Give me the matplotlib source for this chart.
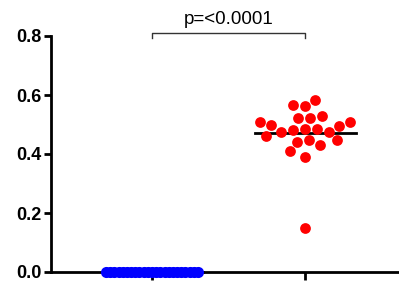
import numpy as np
import matplotlib.pyplot as plt

plt.rcParams["font.family"] = ["Liberation Sans", "DejaVu Sans"]

# Données
positions_groupes = [0, 1]
valeurs_bleu = [0.0] * 23
valeurs_rouge = [0.583, 0.563, 0.566, 0.522, 0.509, 0.498, 0.495, 0.509,
                 0.522, 0.529, 0.485, 0.481, 0.475, 0.475, 0.485, 0.447,
                 0.441, 0.447, 0.431, 0.461, 0.410, 0.390, 0.149]
graduations_y = [0.0, 0.2, 0.4, 0.6, 0.8]
etiquettes_y = ["0.0", "0.2", "0.4", "0.6", "0.8"]
texte_p = "p=<0.0001"

fig = plt.figure(figsize=(3.99, 2.86), dpi=100)
ax = fig.add_axes([51 / 399, 14 / 286, 348 / 399, 236 / 286])
ax.set_xlim(-0.66, 1.614)
ax.set_ylim(0, 0.8)

ECART = 12.0  # distance minimale entre centres des points (pixels)


def essaim(valeurs, centre):
    """Placement type beeswarm : décalage horizontal minimal sans chevauchement."""
    pts = ax.transData.transform([(centre, v) for v in valeurs])
    cx = pts[0, 0]
    ys = pts[:, 1]
    ordre = np.argsort(np.abs(ys - np.median(ys)))
    places = []
    xs = np.zeros(len(ys))
    for i in ordre:
        candidats = [0.0]
        for (xj, yj) in places:
            dy = abs(ys[i] - yj)
            if dy < ECART:
                dx = np.sqrt(ECART ** 2 - dy ** 2)
                candidats += [xj + dx, xj - dx]
        candidats.sort(key=abs)
        for c in candidats:
            ok = all((c - xj) ** 2 + (ys[i] - yj) ** 2 >= ECART ** 2 - 1e-6
                     for (xj, yj) in places)
            if ok:
                xs[i] = c
                break
        places.append((xs[i], ys[i]))
    inv = ax.transData.inverted()
    return inv.transform(np.column_stack([cx + xs, ys]))[:, 0]


# Groupe bleu : valeurs identiques, étalées en bande
x_bleu = np.linspace(-0.30, 0.30, len(valeurs_bleu)) + positions_groupes[0]
ax.scatter(x_bleu, valeurs_bleu, s=64, color="#0000FF", zorder=5,
           clip_on=False, linewidths=0)

# Groupe rouge
x_rouge = essaim(valeurs_rouge, positions_groupes[1])
ax.scatter(x_rouge, valeurs_rouge, s=60, color="#FF0000", zorder=5,
           clip_on=False, linewidths=0)

# Moyennes (sous les points)
for pos, vals in zip(positions_groupes, [valeurs_bleu, valeurs_rouge]):
    m = np.mean(vals)
    ax.plot([pos - 0.33, pos + 0.33], [m, m], color="black", lw=2,
            zorder=2, clip_on=False)

# Crochet de significativité
ax.plot([0, 0, 1, 1], [0.793, 0.81, 0.81, 0.793], color="#333333", lw=1,
        clip_on=False)
ax.text(0.5, 0.84, texte_p, ha="center", va="baseline", fontsize=13.5)

for s in ["top", "right"]:
    ax.spines[s].set_visible(False)
ax.spines["left"].set_linewidth(2)
ax.spines["bottom"].set_linewidth(2)

ax.set_yticks(graduations_y)
ax.set_yticklabels(etiquettes_y, fontweight="bold")
ax.set_xticks(positions_groupes)
ax.set_xticklabels([])
ax.tick_params(axis="y", direction="out", length=5, width=2, labelsize=13, pad=2)
ax.tick_params(axis="x", direction="out", length=6, width=2)

plt.savefig("out.png", dpi=100)
